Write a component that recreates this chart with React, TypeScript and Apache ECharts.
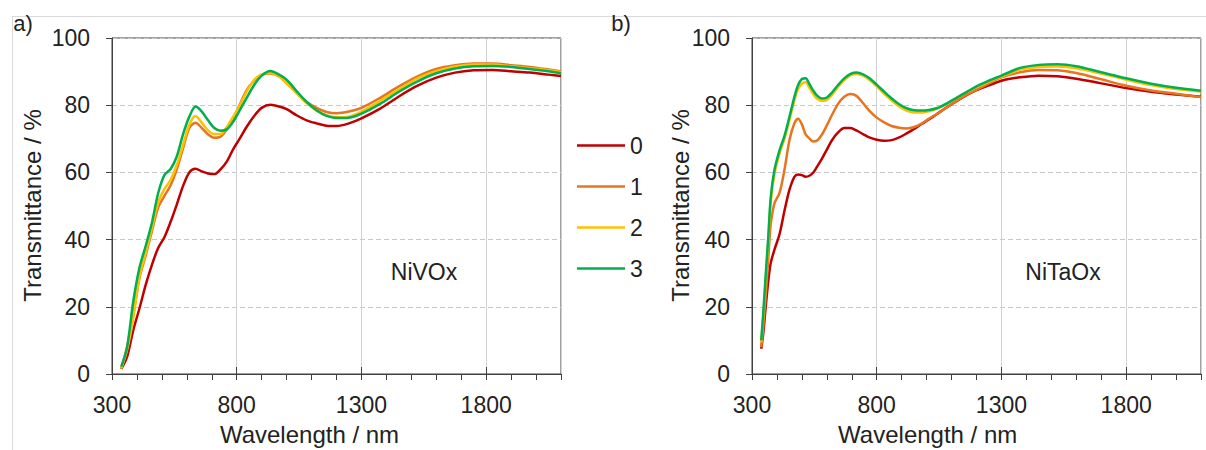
import React, { useEffect, useRef } from "react";
import * as echarts from "echarts";

// ---------- data ----------
const seriesNames = ["0", "1", "2", "3"];
const seriesColors = ["#C00000", "#E8741F", "#FFC000", "#00B050"];

const xMin = 300;
const xMax = 2100;
const xMajor = 500;
const xMinor = 100;
const yMin = 0;
const yMax = 100;
const yStep = 20;

// a) NiVOx
const wavelengthsA = [337, 360, 385, 410, 435, 460, 485, 510, 535, 560, 585, 610, 635, 660, 685, 710, 735, 760, 785, 810, 840, 870, 900, 935, 970, 1000, 1040, 1080, 1120, 1160, 1200, 1250, 1300, 1375, 1450, 1525, 1600, 1675, 1750, 1825, 1900, 1975, 2050, 2100];
const nivox0 = [1.5, 5, 13, 19.5, 26.5, 32.5, 37.5, 40.7, 45.3, 50.5, 56, 60, 61.1, 60.3, 59.7, 59.5, 60.9, 63.2, 66.8, 69.8, 73.6, 76.8, 79.2, 80.1, 79.6, 78.8, 77, 75.5, 74.6, 73.9, 73.8, 74.6, 76.1, 79, 82.6, 85.8, 88.2, 89.7, 90.4, 90.5, 90.1, 89.7, 89.1, 88.7];
const nivox1 = [1.5, 8, 17.5, 28.5, 35.3, 42.5, 49.5, 53, 56.2, 61, 67.2, 73.2, 74.8, 73.2, 71.3, 70.3, 70.6, 72.8, 76, 79.8, 84.5, 87.3, 89, 89.4, 88.6, 86.6, 83.7, 81, 79.2, 78, 77.6, 78.1, 79.2, 82.2, 85.6, 88.6, 90.8, 91.9, 92.4, 92.4, 91.9, 91.4, 90.6, 90];
const nivox2 = [1.8, 7, 16.5, 29, 36, 43.5, 51, 55, 57.8, 62.2, 68.2, 74.2, 76.8, 74.8, 72.5, 71.4, 71.4, 73.5, 76.5, 79.5, 84, 87.5, 89.2, 89.6, 88.6, 86.6, 83.6, 80.6, 78.4, 77, 76.4, 76.6, 78.1, 81.3, 84.7, 88, 90.1, 91.5, 92.1, 92.1, 91.6, 91, 90.4, 89.8];
const nivox3 = [2.2, 7.7, 21.5, 31.6, 38.1, 45, 53.8, 59.2, 61, 64.8, 71.4, 76.6, 79.6, 78.1, 75.5, 73.2, 72.4, 72.8, 75, 78.2, 82.2, 86, 88.8, 90.2, 89.1, 87.6, 84.2, 81, 78.5, 76.8, 76.2, 76.3, 77.5, 80.4, 84, 87.1, 89.5, 90.9, 91.6, 91.7, 91.4, 90.8, 90.1, 89.5];

// b) NiTaOx
const wavelengthsB = [337, 345, 355, 365, 375, 390, 410, 430, 450, 470, 485, 500, 515, 530, 545, 560, 580, 600, 620, 645, 670, 695, 720, 745, 770, 800, 830, 860, 890, 920, 950, 980, 1010, 1040, 1080, 1120, 1160, 1200, 1250, 1300, 1375, 1450, 1525, 1600, 1700, 1800, 1900, 2000, 2100];
const nitaox0 = [7.5, 12, 20, 27.5, 33, 37, 41.5, 48.5, 54.8, 58.7, 59.4, 59.2, 58.7, 59, 59.9, 61.6, 64, 66.8, 69.5, 71.9, 73.2, 73.2, 72.4, 71.4, 70.4, 69.7, 69.4, 69.6, 70.4, 71.6, 72.9, 74.4, 75.8, 77.3, 79.3, 81.2, 83, 84.5, 85.9, 87.3, 88.3, 88.8, 88.6, 87.9, 86.5, 85.1, 84, 83.2, 82.5];
const nitaox1 = [8, 14, 23.5, 34, 44.5, 50.8, 53.8, 60.7, 69.6, 74.6, 76, 74.3, 71.3, 70.1, 69.2, 69.4, 71.2, 74, 77, 80.4, 82.5, 83.3, 82.7, 80.6, 78.4, 76.3, 74.9, 73.8, 73.3, 73.1, 73.5, 74.5, 76, 77.3, 79.3, 81.3, 83.1, 84.6, 86.5, 88.3, 89.8, 90.5, 90.4, 89.6, 87.7, 85.8, 84.4, 83.4, 82.4];
const nitaox2 = [9.5, 17, 28, 39, 51, 59.5, 65.5, 70, 75.5, 81.5, 84.8, 86.4, 86.8, 85.2, 83.4, 82, 81.3, 81.6, 83, 85.4, 87.5, 88.9, 89.3, 88.8, 87.6, 85.6, 83.4, 81.4, 79.6, 78.4, 77.8, 77.8, 78.2, 78.9, 80.4, 82.1, 83.8, 85.4, 87, 88.5, 90.6, 91.4, 91.5, 91, 89.4, 87.6, 86, 84.8, 84.1];
const nitaox3 = [10, 18, 29.5, 40.5, 52.5, 60.7, 66.5, 70.8, 76.5, 82.5, 86, 87.8, 88, 86.3, 84.4, 82.9, 82, 82.3, 83.7, 86, 88, 89.3, 89.7, 89.2, 88.1, 86.1, 84, 82, 80.3, 79.1, 78.5, 78.4, 78.6, 79.1, 80.5, 82.2, 83.9, 85.6, 87.3, 88.8, 91.1, 92, 92.2, 91.6, 89.8, 88, 86.4, 85.2, 84.3];

const panelLabels = ["a)", "b)"];
const panelNames = ["NiVOx", "NiTaOx"];
const xTitle = "Wavelength / nm";
const yTitle = "Transmittance / %";

// ---------- styling ----------
const font = "'Liberation Sans', Arial, Helvetica, sans-serif";
const axisColor = "#404040";
const textColor = "#222222";

const panels = [
  { wl: wavelengthsA, vals: [nivox0, nivox1, nivox2, nivox3], left: 112 },
  { wl: wavelengthsB, vals: [nitaox0, nitaox1, nitaox2, nitaox3], left: 752 },
];

function buildOption() {
  const grid = panels.map((p) => ({
    left: p.left,
    top: 38,
    width: 449,
    height: 336,
    show: true,
    borderColor: axisColor,
    borderWidth: 1,
    backgroundColor: "transparent",
  }));

  const xAxis: any[] = [];
  panels.forEach((_, g) => {
    xAxis.push({
      type: "value",
      gridIndex: g,
      position: "bottom",
      min: xMin,
      max: xMax,
      interval: xMajor,
      axisLine: { show: true, onZero: false, lineStyle: { color: axisColor, width: 1 } },
      axisTick: { show: true, inside: true, length: 7, lineStyle: { color: axisColor } },
      axisLabel: {
        fontSize: 23,
        color: textColor,
        fontFamily: font,
        margin: 19,
        showMaxLabel: false,
        formatter: (v: number) => String(v),
      },
      splitLine: { show: true, lineStyle: { color: "#d0d0d0", width: 1 } },
    });
    xAxis.push({
      type: "value",
      gridIndex: g,
      position: "bottom",
      min: xMin,
      max: xMax,
      interval: xMinor,
      axisLine: { show: false, onZero: false },
      axisTick: { show: true, inside: false, length: 6, lineStyle: { color: axisColor } },
      axisLabel: { show: false },
      splitLine: { show: false },
    });
  });

  const yAxis = panels.map((_, g) => ({
    type: "value",
    gridIndex: g,
    min: yMin,
    max: yMax,
    interval: yStep,
    axisLine: { show: true, onZero: false, lineStyle: { color: axisColor, width: 1 } },
    axisTick: { show: true, length: 6, lineStyle: { color: axisColor } },
    axisLabel: { fontSize: 23, color: textColor, fontFamily: font, margin: 22 },
    splitLine: { show: true, lineStyle: { color: "#c8c8c8", width: 1, type: [5, 3] } },
  }));

  const series: any[] = [];
  panels.forEach((p, g) => {
    p.vals.forEach((vals, i) => {
      series.push({
        type: "line",
        name: seriesNames[i],
        xAxisIndex: g * 2,
        yAxisIndex: g,
        data: p.wl.map((w, k) => [w, vals[k]]),
        symbol: "none",
        showSymbol: false,
        smooth: 0.3,
        lineStyle: { color: seriesColors[i], width: 2.5 },
        itemStyle: { color: seriesColors[i] },
        z: 2 + i,
      });
    });
  });

  const titleStyle = (text: string, size: number) => ({
    text,
    fontSize: size,
    fontFamily: font,
    fill: textColor,
    align: "center",
    verticalAlign: "middle",
  });

  const graphic: any[] = [
    { type: "line", silent: true, shape: { x1: 12, y1: 16.5, x2: 1206, y2: 16.5 }, style: { stroke: "#d9d9d9", lineWidth: 1 } },
    { type: "line", silent: true, shape: { x1: 12.5, y1: 16.5, x2: 12.5, y2: 450 }, style: { stroke: "#d9d9d9", lineWidth: 1 } },
    { type: "text", x: 23, y: 23, style: titleStyle(panelLabels[0], 22) },
    { type: "text", x: 621, y: 23, style: titleStyle(panelLabels[1], 22) },
    { type: "text", x: 424, y: 272, style: titleStyle(panelNames[0], 23) },
    { type: "text", x: 1063, y: 272, style: titleStyle(panelNames[1], 23) },
    { type: "text", x: 309.5, y: 434, style: titleStyle(xTitle, 24) },
    { type: "text", x: 927.7, y: 434, style: titleStyle(xTitle, 24) },
    { type: "text", x: 32, y: 205.5, rotation: Math.PI / 2, style: titleStyle(yTitle, 24) },
    { type: "text", x: 680, y: 205.5, rotation: Math.PI / 2, style: titleStyle(yTitle, 24) },
  ];

  return {
    animation: false,
    backgroundColor: "#ffffff",
    textStyle: { fontFamily: font },
    grid,
    xAxis,
    yAxis,
    legend: {
      data: seriesNames.map((n, i) => ({ name: n, icon: "rect", itemStyle: { color: seriesColors[i] } })),
      orient: "vertical",
      left: 577,
      top: 134,
      padding: 0,
      itemWidth: 48,
      itemHeight: 2.5,
      itemGap: 18,
      selectedMode: false,
      textStyle: { fontSize: 23, color: textColor, fontFamily: font },
    },
    series,
    graphic,
  };
}

export default function App() {
  const ref = useRef<HTMLDivElement>(null);
  useEffect(() => {
    if (!ref.current) return;
    const chart = echarts.init(ref.current, null, { renderer: "svg" });
    chart.setOption(buildOption() as any);
    return () => {
      chart.dispose();
    };
  }, []);
  return (
    <div
      ref={ref}
      style={{ position: "absolute", left: 0, top: 0, width: 1206, height: 450, background: "#fff" }}
    />
  );
}
